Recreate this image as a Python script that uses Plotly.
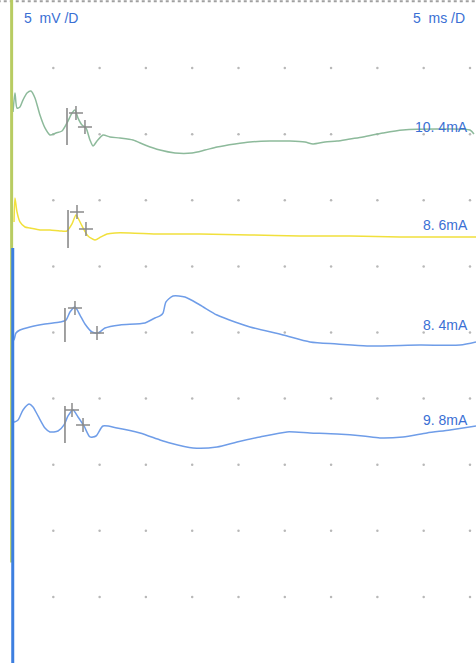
import plotly.graph_objects as go

# ---- data (time in ms, amplitude in mV relative to each trace's baseline) ----
t1 = [0.65, 0.86, 1.08, 1.40, 1.73, 2.16, 2.59, 3.02, 3.56, 4.10, 4.64, 5.29, 5.94, 6.48, 7.02, 7.34, 7.67, 8.10, 8.53, 8.96, 9.29, 9.72, 10.37, 11.12, 12.20, 13.61, 14.90, 16.52, 18.14, 19.98, 21.38, 22.68, 24.62, 26.24, 28.40, 30.56, 32.18, 33.05, 34.34, 35.64, 37.04, 38.44, 40.60, 42.76, 46.44, 50.00, 50.43]
a1 = [2.12, 3.56, 2.42, 2.50, 3.03, 3.56, 3.71, 3.18, 1.89, 0.91, 0.38, 0.53, 0.68, 1.29, 2.04, 2.27, 1.66, 1.13, 0.91, 0.00, -0.45, -0.08, 0.38, 0.23, 0.15, 0.00, -0.38, -0.76, -0.98, -0.98, -0.76, -0.53, -0.30, -0.15, -0.08, -0.08, -0.15, -0.30, -0.15, -0.08, 0.08, 0.23, 0.53, 0.76, 0.83, 0.76, 0.45]

t2 = [0.76, 0.86, 1.08, 1.40, 1.94, 2.48, 3.56, 4.64, 5.72, 6.48, 7.02, 7.45, 7.78, 8.10, 8.75, 9.50, 10.15, 10.80, 11.66, 13.28, 16.52, 20.84, 26.24, 31.64, 37.04, 42.44, 50.65]
a2 = [0.83, 2.65, 1.59, 0.83, 0.45, 0.38, 0.23, 0.23, 0.15, 0.15, 0.68, 1.36, 0.98, 0.53, -0.23, -0.53, -0.30, -0.08, 0.00, 0.00, -0.08, -0.08, -0.15, -0.23, -0.23, -0.30, -0.30]

t3 = [0.65, 0.76, 0.97, 1.40, 2.48, 4.10, 5.72, 6.37, 6.80, 7.34, 7.88, 8.42, 9.18, 9.83, 10.58, 12.20, 14.90, 15.98, 16.52, 16.85, 17.17, 17.93, 19.22, 20.84, 22.68, 24.62, 26.24, 29.81, 32.72, 35.64, 38.88, 44.60, 48.92, 50.65]
a3 = [1.89, -0.38, 0.15, 0.38, 0.61, 0.83, 0.98, 1.13, 1.74, 2.12, 1.51, 0.83, 0.23, 0.15, 0.53, 0.76, 0.91, 1.29, 1.44, 1.66, 2.50, 2.95, 2.87, 2.27, 1.51, 0.98, 0.61, 0.00, -0.53, -0.68, -0.83, -0.76, -0.76, -0.53]

t4 = [0.65, 0.76, 1.19, 1.73, 2.38, 2.81, 3.35, 4.10, 4.64, 5.51, 6.16, 6.59, 7.13, 7.67, 8.32, 8.96, 9.61, 10.37, 11.88, 14.36, 16.52, 17.60, 20.09, 22.68, 24.84, 27.32, 30.24, 32.72, 35.64, 38.44, 40.28, 42.76, 45.36, 47.84, 50.65]
a4 = [2.12, 0.83, 0.98, 1.74, 2.19, 1.97, 1.29, 0.38, 0.08, 0.15, 0.61, 1.29, 1.74, 1.21, 0.53, -0.30, -0.23, 0.53, 0.38, 0.00, -0.53, -0.76, -1.13, -1.06, -0.68, -0.30, 0.08, 0.00, -0.08, -0.23, -0.38, -0.30, 0.00, 0.23, 0.53]

trace_times = [t1, t2, t3, t4]
trace_amps = [a1, a2, a3, a4]
trace_labels = ["10. 4mA", "8. 6mA", "8. 4mA", "9. 8mA"]

# cursor marks per trace: onset time, onset bar low/high, peak (+), second (+)
onset_t = [6.48, 6.59, 6.26, 6.26]
onset_lo = [-0.38, -1.13, -0.53, -0.76]
onset_hi = [2.42, 1.74, 2.04, 2.04]
peak_t = [7.45, 7.56, 7.34, 7.02]
peak_a = [2.04, 1.59, 2.04, 1.74]
second_t = [8.42, 8.53, 9.72, 8.21]
second_a = [0.98, 0.30, 0.15, 0.61]

# display settings
sweep_ms = [0, 5, 10, 15, 20, 25, 30, 35, 40, 45, 50]
div_mv = [0, -5, -10, -15, -20, -25, -30, -35, -40, -45, -50]
offsets = [-10.44, -17.47, -25.19, -32.60]
label_y = [-9.46, -16.87, -24.43, -31.62]
colors = ["#8dba9b", "#f1e03c", "#6f9de8", "#6f9de8"]
text_color = "#3a6fd4"
text_font = dict(family="Liberation Sans", size=14, color=text_color)

fig = go.Figure()

# grid dots
gx, gy = [], []
for x in sweep_ms[1:]:
    for y in div_mv[1:-1]:
        gx.append(x)
        gy.append(y)
fig.add_trace(go.Scatter(x=gx, y=gy, mode="markers",
                         marker=dict(size=2.5, color="#b8b8b8"), hoverinfo="skip"))

# top border
fig.add_shape(type="line", x0=-1, x1=52, y0=0.05, y1=0.05,
              line=dict(color="#a0a0a0", width=2, dash="dot"))

# stimulus channel lines at left
fig.add_shape(type="line", x0=0.5, x1=0.5, y0=0.2, y1=-42.4,
              line=dict(color="#b8cc62", width=3))
fig.add_shape(type="line", x0=0.62, x1=0.62, y0=-18.6, y1=-50.2,
              line=dict(color="#3d7fe0", width=3))

for i in range(4):
    ys = [offsets[i] + a for a in trace_amps[i]]
    fig.add_trace(go.Scatter(x=trace_times[i], y=ys, mode="lines",
                             line=dict(color=colors[i], width=1.5, shape="spline",
                                       smoothing=0.7),
                             hoverinfo="skip"))
    # onset bar
    fig.add_trace(go.Scatter(x=[onset_t[i], onset_t[i]],
                             y=[offsets[i] + onset_lo[i], offsets[i] + onset_hi[i]],
                             mode="lines", line=dict(color="#8a8a8a", width=1.6),
                             hoverinfo="skip"))
    # + markers
    fig.add_trace(go.Scatter(x=[peak_t[i], second_t[i]],
                             y=[offsets[i] + peak_a[i], offsets[i] + second_a[i]],
                             mode="markers",
                             marker=dict(symbol="cross-thin", size=10,
                                         line=dict(color="#8a8a8a", width=1.5)),
                             hoverinfo="skip"))
    fig.add_annotation(x=50.0, y=label_y[i], text=trace_labels[i], showarrow=False,
                       xanchor="right", yanchor="middle", font=text_font)

fig.add_annotation(x=1.6, y=-1.21, text="5  mV /D", showarrow=False,
                   xanchor="left", yanchor="middle", font=text_font)
fig.add_annotation(x=49.7, y=-1.21, text="5  ms /D", showarrow=False,
                   xanchor="right", yanchor="middle", font=text_font)

fig.update_layout(
    width=476, height=663,
    margin=dict(l=0, r=0, t=0, b=0),
    paper_bgcolor="white", plot_bgcolor="white",
    showlegend=False,
    xaxis=dict(range=[-0.756, 50.65], visible=False, fixedrange=True),
    yaxis=dict(range=[-50.0, 0.15], visible=False, fixedrange=True),
)

fig.write_html("out.html",
               config={"displayModeBar": False, "staticPlot": True},
               post_script="document.body.style.margin='0';"
                           "document.body.style.overflow='hidden';")
